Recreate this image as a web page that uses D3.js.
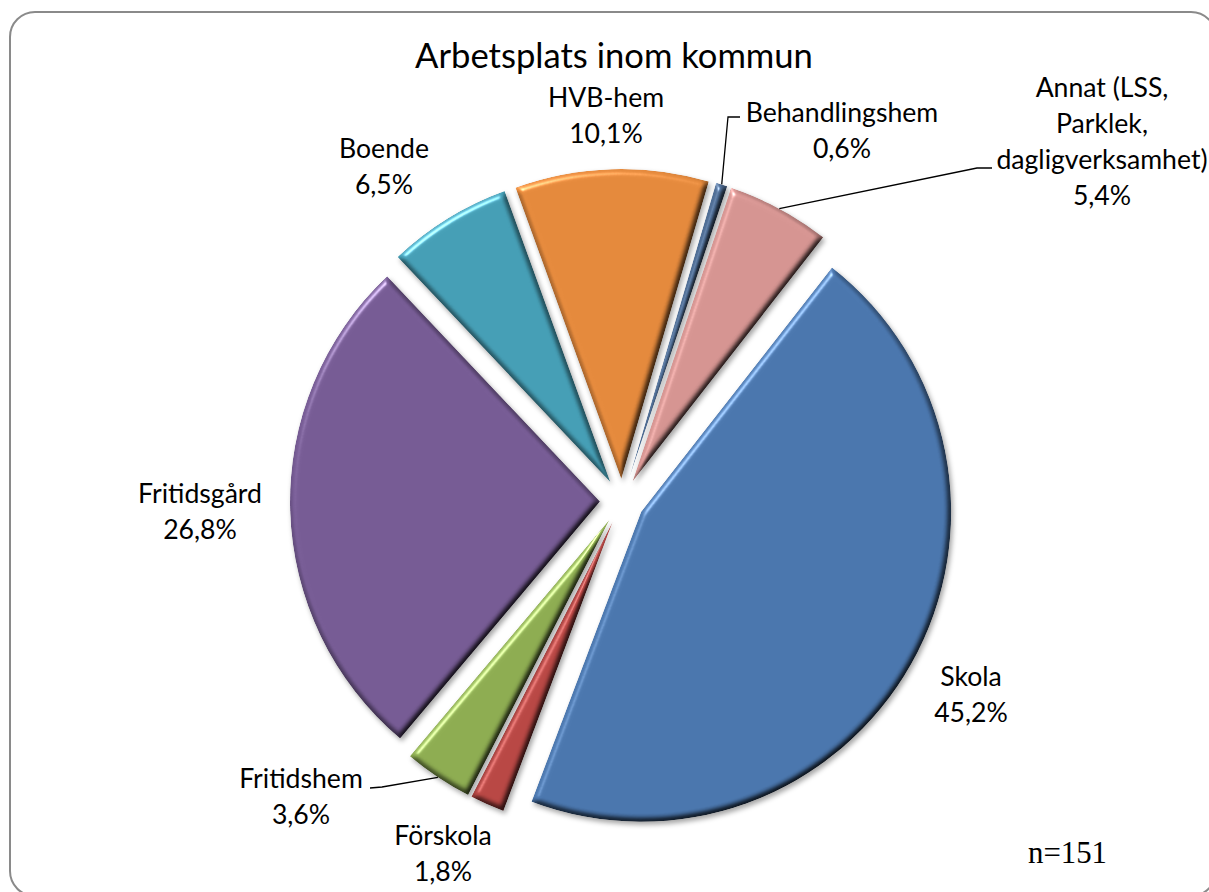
<!DOCTYPE html>
<html>
<head>
<meta charset="utf-8">
<script src="https://cdn.jsdelivr.net/npm/d3@7"></script>
<style>
  html, body { margin: 0; padding: 0; background: #ffffff; }
  svg { display: block; }
</style>
</head>
<body>
<svg id="chart" width="1209" height="892"></svg>
<script>
// ---- data ----
const categories = ["Skola", "Förskola", "Fritidshem", "Fritidsgård", "Boende", "HVB-hem", "Behandlingshem", "Annat (LSS, Parklek, dagligverksamhet)"];
const values = [45.2, 1.8, 3.6, 26.8, 6.5, 10.1, 0.6, 5.4];
const valueLabels = ["45,2%", "1,8%", "3,6%", "26,8%", "6,5%", "10,1%", "0,6%", "5,4%"];
const labelLines = [["Skola"], ["Förskola"], ["Fritidshem"], ["Fritidsgård"], ["Boende"], ["HVB-hem"], ["Behandlingshem"], ["Annat (LSS,", "Parklek,", "dagligverksamhet)"]];
const title = "Arbetsplats inom kommun";
const note = "n=151";

// ---- styles / layout ----
const colors = ["#4A76AD", "#B84744", "#8DAC51", "#765B94", "#459EB5", "#E4893C", "#4E6C93", "#D59491"];
const W = 1209, H = 892;
const cx = 622, cy = 501;
const radius = 310, explode = 22;
const firstSliceDeg = 38;
const lineH = 36;
// label anchor: centre x and first-line baseline, as offsets from pie centre
const labelOffsets = [[349, 185], [-179, 344], [-321, 287], [-422, 2], [-238, -343], [-16, -394], [220, -379], [480, -404]];
// leader lines: [elbow, end] offsets from pie centre (null = none)
const leaders = [null, null, [[-240, 286], [-252, 287]], null, null, null, [[106, -384], [118, -384]], [[355, -333], [370, -333]]];

const svg = d3.select("#chart");
svg.append("rect").attr("width", W).attr("height", H).attr("fill", "#fff");

// border
svg.append("rect")
  .attr("x", 10).attr("y", 12).attr("width", 1206).attr("height", 884)
  .attr("rx", 25).attr("ry", 25)
  .attr("fill", "none").attr("stroke", "#8a8a8a").attr("stroke-width", 2);

// bevel filter
const defs = svg.append("defs");
const f = defs.append("filter").attr("id", "bevel")
  .attr("x", "-20%").attr("y", "-20%").attr("width", "140%").attr("height", "140%")
  .attr("color-interpolation-filters", "sRGB");
f.append("feGaussianBlur").attr("in", "SourceAlpha").attr("stdDeviation", 3.2).attr("result", "b");
const dl = f.append("feDiffuseLighting").attr("in", "b").attr("surfaceScale", 5)
  .attr("diffuseConstant", 1.16).attr("lighting-color", "#fff").attr("result", "diff");
dl.append("feDistantLight").attr("azimuth", 235).attr("elevation", 60);
f.append("feComposite").attr("in", "SourceGraphic").attr("in2", "diff")
  .attr("operator", "arithmetic").attr("k1", 1).attr("k2", 0).attr("k3", 0).attr("k4", 0).attr("result", "shaded");
const sl = f.append("feSpecularLighting").attr("in", "b").attr("surfaceScale", 5)
  .attr("specularConstant", 0.9).attr("specularExponent", 30).attr("lighting-color", "#fff").attr("result", "spec");
sl.append("feDistantLight").attr("azimuth", 235).attr("elevation", 28);
f.append("feComposite").attr("in", "spec").attr("in2", "SourceAlpha").attr("operator", "in").attr("result", "specIn");
f.append("feComposite").attr("in", "shaded").attr("in2", "specIn")
  .attr("operator", "arithmetic").attr("k1", 0).attr("k2", 1).attr("k3", 0.55).attr("k4", 0).attr("result", "lit");
f.append("feComposite").attr("in", "lit").attr("in2", "SourceAlpha").attr("operator", "in").attr("result", "litIn");
f.append("feGaussianBlur").attr("in", "SourceAlpha").attr("stdDeviation", 2.5).attr("result", "sb");
f.append("feOffset").attr("in", "sb").attr("dx", 1.5).attr("dy", 2.5).attr("result", "so");
f.append("feFlood").attr("flood-color", "#000").attr("flood-opacity", 0.35).attr("result", "fl");
f.append("feComposite").attr("in", "fl").attr("in2", "so").attr("operator", "in").attr("result", "shadow");
const m = f.append("feMerge");
m.append("feMergeNode").attr("in", "shadow");
m.append("feMergeNode").attr("in", "litIn");

// font fitting to match the original's text widths
function fitSize(family, refs) {
  let sum = 0;
  refs.forEach(([txt, target]) => {
    const t = svg.append("text").attr("font-family", family).attr("font-size", 100).text(txt);
    const w = t.node().getComputedTextLength();
    t.remove();
    sum += 100 * target / w;
  });
  return sum / refs.length;
}
const labelFont = "Lato, 'Open Sans', sans-serif";
const labelSize = fitSize(labelFont, [["Fritidsgård", 125], ["Behandlingshem", 197], ["dagligverksamhet)", 216], ["HVB-hem", 111], ["Boende", 89]]);
const titleSize = fitSize(labelFont, [[title, 398]]);
const noteFont = "'Liberation Serif', 'Times New Roman', serif";
const noteSize = fitSize(noteFont, [[note, 79]]);

// pie
const data = categories.map((c, i) => ({ name: c, value: values[i], i }));
const pie = d3.pie().sort(null).value(d => d.value)
  .startAngle(firstSliceDeg * Math.PI / 180)
  .endAngle(firstSliceDeg * Math.PI / 180 + 2 * Math.PI);
const arcs = pie(data);
const arc = d3.arc().innerRadius(0).outerRadius(radius);

const g = svg.append("g").attr("transform", `translate(${cx},${cy})`);
function offset(a, r) {
  const mid = (a.startAngle + a.endAngle) / 2;
  return [r * Math.sin(mid), -r * Math.cos(mid)];
}
g.selectAll("path.slice").data(arcs).join("path")
  .attr("class", "slice")
  .attr("d", arc)
  .attr("transform", d => { const [x, y] = offset(d, explode); return `translate(${x},${y})`; })
  .attr("fill", d => colors[d.data.i])
  .attr("filter", "url(#bevel)");

// leader lines
arcs.forEach(a => {
  const L = leaders[a.data.i];
  if (!L) return;
  const start = offset(a, explode + radius);
  g.append("polyline")
    .attr("points", [start, L[0], L[1]].map(p => p.join(",")).join(" "))
    .attr("fill", "none").attr("stroke", "#000").attr("stroke-width", 1.3);
});

// labels
arcs.forEach(a => {
  const i = a.data.i;
  const [dx, dy] = labelOffsets[i];
  const lines = labelLines[i].concat([valueLabels[i]]);
  const t = g.append("text")
    .attr("font-family", labelFont).attr("font-size", labelSize)
    .attr("fill", "#000").attr("text-anchor", "middle");
  lines.forEach((ln, k) => {
    t.append("tspan").attr("x", dx).attr("y", dy + k * lineH).text(ln);
  });
});

// title
svg.append("text").attr("x", 614).attr("y", 68)
  .attr("font-family", labelFont).attr("font-size", titleSize)
  .attr("text-anchor", "middle").attr("fill", "#000").text(title);

// n note
svg.append("text").attr("x", 1028).attr("y", 863)
  .attr("font-family", noteFont).attr("font-size", noteSize)
  .attr("fill", "#000").text(note);
</script>
</body>
</html>
